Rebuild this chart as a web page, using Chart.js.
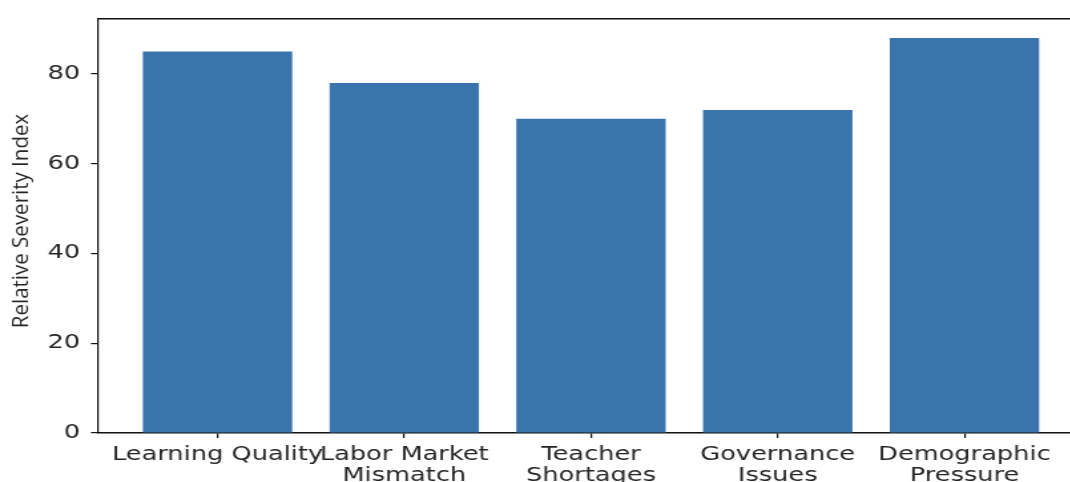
<!DOCTYPE html>
<html>
<head>
<meta charset="utf-8">
<script src="https://cdn.jsdelivr.net/npm/chart.js@4"></script>
<style>
  html, body { margin: 0; padding: 0; background: #fff; overflow: hidden; }
  /* the reference figure is stretched sideways, so the whole canvas is too */
  #wrap { width: 820px; height: 500px; transform: scaleX(1.33); transform-origin: 0 0; }
</style>
</head>
<body>
<div id="wrap"><canvas id="chart" width="820" height="500"></canvas></div>
<script>
const categories = ['Learning Quality', 'Labor Market\nMismatch', 'Teacher\nShortages', 'Governance\nIssues', 'Demographic\nPressure'];
const severity = [85, 78, 70, 72, 88];
const yTicks = [0, 20, 40, 60, 80];
const yLabel = 'Relative Severity Index';

const STRETCH = 1.33;
const textColor = '#262626';
const spineColor = '#111';
const tickFont = { family: '"DejaVu Sans"', size: 19.3, lineHeight: 1.07 };

// y title is drawn un-stretched (it looks narrow in the reference)
const yTitlePlugin = {
    id: 'yTitle',
    afterDraw(chart) {
        const ctx = chart.ctx;
        ctx.save();
        ctx.scale(1 / STRETCH, 1);
        ctx.translate(28.5, 221);
        ctx.rotate(-Math.PI / 2);
        ctx.font = '20.5px "Open Sans"';
        ctx.fillStyle = textColor;
        ctx.textAlign = 'center';
        ctx.textBaseline = 'alphabetic';
        ctx.fillText(yLabel, 0, 0);
        ctx.restore();
    }
};

const ctx = document.getElementById('chart').getContext('2d');
new Chart(ctx, {
    type: 'bar',
    data: {
        datasets: [{
            data: severity.map((v, i) => ({ x: i, y: v })),
            backgroundColor: '#3a74ad',
            borderWidth: 0,
            barPercentage: 0.8,
            categoryPercentage: 1
        }]
    },
    options: {
        responsive: false,
        animation: false,
        layout: { padding: { top: 15, right: 5, left: 0, bottom: 0 } },
        plugins: { legend: { display: false }, tooltip: { enabled: false } },
        scales: {
            x: {
                type: 'linear',
                position: 'bottom',
                offset: false,
                min: -0.64,
                max: 4.64,
                afterBuildTicks: s => { s.ticks = categories.map((_, i) => ({ value: i })); },
                afterFit: s => { s.height = 67; },
                ticks: {
                    autoSkip: false, maxRotation: 0, minRotation: 0,
                    padding: 7,
                    color: textColor,
                    font: tickFont,
                    callback: v => categories[v] ? categories[v].split('\n') : ''
                },
                grid: { offset: false, drawOnChartArea: false, drawTicks: true, tickLength: 5, color: spineColor, lineWidth: 1.2 },
                border: { display: true, color: spineColor, width: 1.5 }
            },
            top: {
                type: 'linear',
                position: 'top',
                offset: false,
                min: -0.64,
                max: 4.64,
                afterFit: s => { s.height = 0; },
                ticks: { display: false },
                grid: { offset: false, drawOnChartArea: false, drawTicks: false },
                border: { display: true, color: spineColor, width: 1.5 }
            },
            y: {
                min: 0,
                max: 92.4,
                afterBuildTicks: s => { s.ticks = yTicks.map(v => ({ value: v })); },
                afterFit: s => { s.width = 98 / STRETCH; },
                ticks: { padding: 8, color: textColor, font: tickFont },
                grid: { drawOnChartArea: false, drawTicks: true, tickLength: 5.3, color: spineColor, lineWidth: 1.2 },
                border: { display: true, color: spineColor, width: 1.2 }
            }
        }
    },
    plugins: [yTitlePlugin]
});
</script>
</body>
</html>
